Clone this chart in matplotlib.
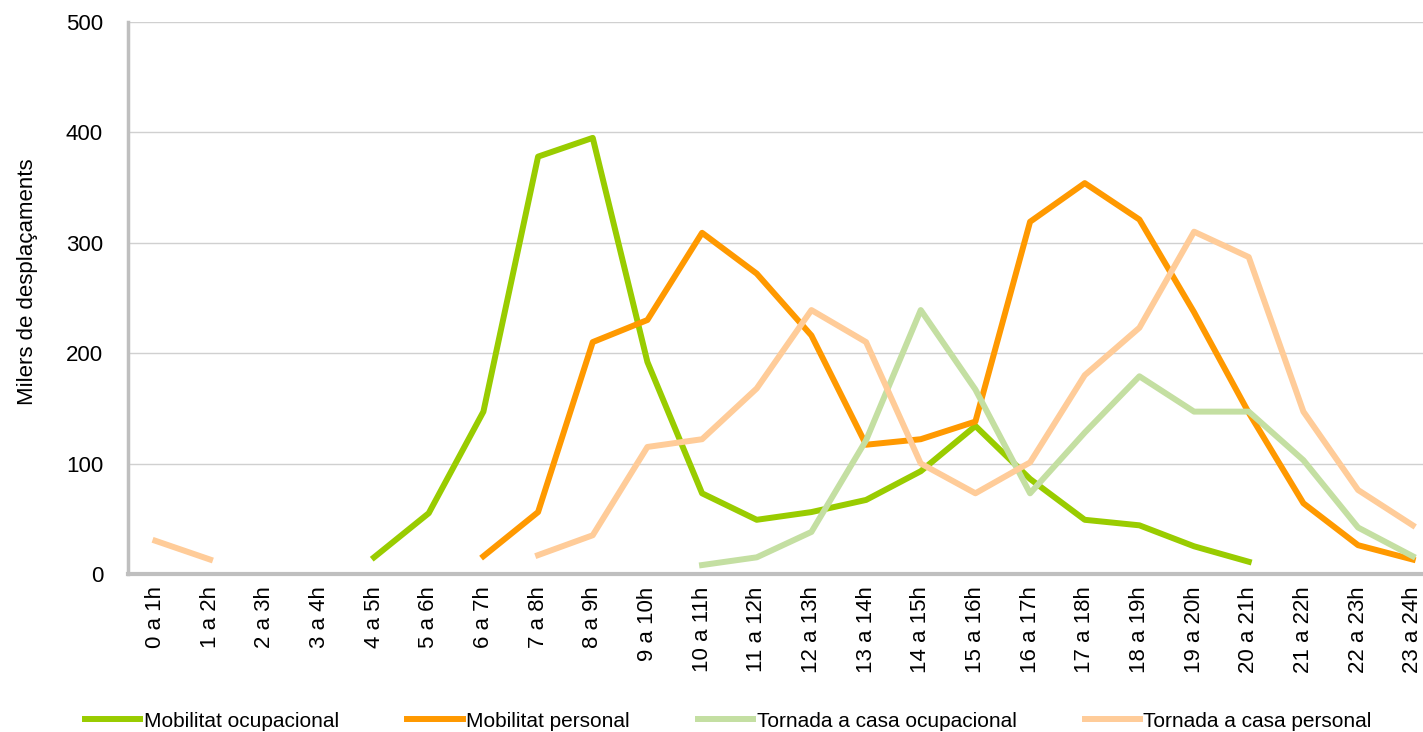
import matplotlib.pyplot as plt
import numpy as np

plt.rcParams['font.family'] = ['Liberation Sans', 'DejaVu Sans']

hores = ['0 a 1h', '1 a 2h', '2 a 3h', '3 a 4h', '4 a 5h', '5 a 6h', '6 a 7h', '7 a 8h',
         '8 a 9h', '9 a 10h', '10 a 11h', '11 a 12h', '12 a 13h', '13 a 14h', '14 a 15h',
         '15 a 16h', '16 a 17h', '17 a 18h', '18 a 19h', '19 a 20h', '20 a 21h',
         '21 a 22h', '22 a 23h', '23 a 24h']

nan = np.nan
# milers de desplaçaments per franja horaria
mob_ocupacional = [nan, nan, nan, nan, 15, 55, 147, 378, 395, 192, 73, 49, 56, 67, 93,
                   134, 86, 49, 44, 25, 11, nan, nan, nan]
mob_personal = [nan, nan, nan, nan, nan, nan, 16, 56, 210, 230, 309, 272, 216, 117, 122,
                138, 319, 354, 321, 237, 146, 64, 26, 13]
tornada_ocupacional = [nan, nan, nan, nan, nan, nan, nan, nan, nan, nan, 8, 15, 38, 121, 239,
                       167, 73, 128, 179, 147, 147, 103, 42, 16]
tornada_personal = [30, 13, nan, nan, nan, nan, nan, 17, 35, 115, 122, 168, 239, 210, 100,
                    73, 101, 180, 223, 310, 287, 147, 76, 44]

x = np.arange(len(hores))

fig = plt.figure(figsize=(14.23, 7.32), dpi=100)
ax = fig.add_axes([0.09, 0.216, 0.922, 0.754])

lw = 4.3
ax.plot(x, mob_ocupacional, color='#99CC00', lw=lw, label='Mobilitat ocupacional')
ax.plot(x, mob_personal, color='#FF9900', lw=lw, label='Mobilitat personal')
ax.plot(x, tornada_ocupacional, color='#C4DFA2', lw=lw, label='Tornada a casa ocupacional')
ax.plot(x, tornada_personal, color='#FFCC99', lw=lw, label='Tornada a casa personal')

ax.set_xlim(-0.5, len(hores) - 0.5)
ax.set_ylim(0, 500)
ax.set_yticks([0, 100, 200, 300, 400, 500])
ax.set_xticks(x)
ax.set_xticklabels(hores, rotation=90, ha='center', va='top')
ax.tick_params(axis='x', length=0, pad=9, labelsize=16)
ax.tick_params(axis='y', length=0, pad=18, labelsize=16)

ax.grid(axis='y', color='#D0D0D0', lw=1)
ax.set_axisbelow(True)
for s in ['top', 'right']:
    ax.spines[s].set_visible(False)
ax.spines['left'].set_color('#BFBFBF')
ax.spines['left'].set_linewidth(2.5)
ax.spines['bottom'].set_color('#BFBFBF')
ax.spines['bottom'].set_linewidth(3)

fig.text(0.019, 0.615, 'Milers de desplaçaments', rotation=90, ha='center', va='center',
         fontsize=16)

fig.legend(loc='center', bbox_to_anchor=(0.512, 0.015), ncol=4, frameon=False,
           fontsize=15, handlelength=2.65, handletextpad=0.15, columnspacing=3.3)

fig.savefig('out.png', dpi=100)
